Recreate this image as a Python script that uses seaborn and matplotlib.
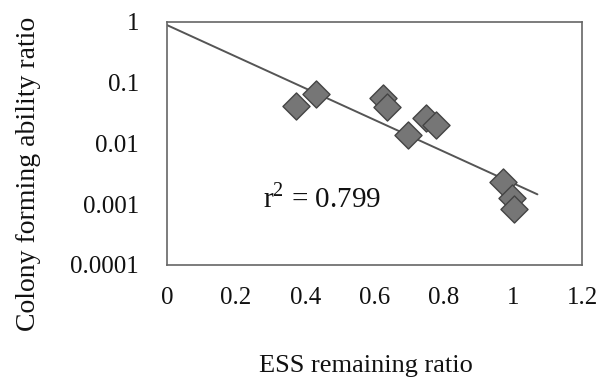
import numpy as np
import pandas as pd
import matplotlib
matplotlib.use("Agg")
import matplotlib.pyplot as plt
import seaborn as sns

# values
ess_ratio = [0.374, 0.431, 0.625, 0.635, 0.695, 0.748, 0.777, 0.970, 0.997, 1.001]
colony_ratio = [0.042, 0.064, 0.057, 0.040, 0.0135, 0.026, 0.020, 0.0023, 0.00125, 0.00082]
fit_x = [0.0, 1.07]
fit_y = [0.89, 0.00145]
x_ticks = [0, 0.2, 0.4, 0.6, 0.8, 1, 1.2]
x_tick_labels = ["0", "0.2", "0.4", "0.6", "0.8", "1", "1.2"]
y_ticks = [0.0001, 0.001, 0.01, 0.1, 1]
y_tick_labels = ["0.0001", "0.001", "0.01", "0.1", "1"]
r2_text = "r$^2$ = 0.799"

df = pd.DataFrame({"ess": ess_ratio, "cfa": colony_ratio})

sns.set_style("white")
plt.rcParams["font.family"] = ["Liberation Serif", "DejaVu Serif"]
plt.rcParams["mathtext.fontset"] = "custom"
plt.rcParams["mathtext.rm"] = "Liberation Serif"

fig = plt.figure(figsize=(5.98, 3.85), dpi=100)
ax = fig.add_axes([0.279, 0.312, 0.695, 0.631])

ax.plot(fit_x, fit_y, color="#555555", linewidth=1.4, zorder=1)
sns.scatterplot(data=df, x="ess", y="cfa", marker="D", s=190,
                color="#767676", edgecolor="#444444", linewidth=1.0, ax=ax, zorder=2)

ax.set_yscale("log")
ax.set_xlim(0, 1.2)
ax.set_ylim(0.0001, 1)
ax.set_xticks(x_ticks)
ax.set_xticklabels(x_tick_labels)
ax.set_yticks(y_ticks)
ax.set_yticklabels(y_tick_labels)
ax.minorticks_off()
ax.tick_params(direction="in", length=2, width=0.6, labelsize=18, colors="#111111")
ax.tick_params(axis="x", pad=16)
ax.tick_params(axis="y", pad=20)

for sp in ax.spines.values():
    sp.set_color("#666666")
    sp.set_linewidth(1.2)

ax.set_xlabel("ESS remaining ratio", fontsize=19, color="#111111")
ax.xaxis.set_label_coords(0.478, -0.37)
ax.set_ylabel("Colony forming ability ratio", fontsize=20, color="#111111", va="center")
ax.yaxis.set_label_coords(-0.332, 0.375)
ax.text(0.278, 0.00089, r2_text, fontsize=21, va="baseline", ha="left", color="#111111")

fig.savefig("out.png", dpi=100)
